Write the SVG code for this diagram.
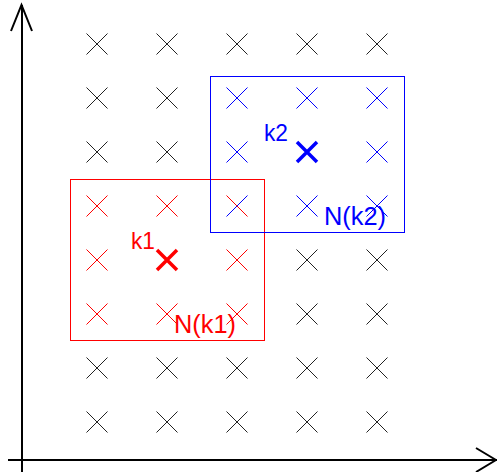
<svg xmlns="http://www.w3.org/2000/svg" width="497" height="472" viewBox="0 0 497 472">
<defs>
<style>
.ax{stroke:#000;stroke-width:2;fill:none}
.g{stroke:#222;stroke-width:1;fill:none}
.r{stroke:#ff0000;stroke-width:1;fill:none}
.b{stroke:#0000ff;stroke-width:1;fill:none}
.rb{stroke:#ff0000;stroke-width:3.5;fill:none}
.bb{stroke:#0000ff;stroke-width:3.5;fill:none}
.t{font-family:"Liberation Sans",Arial,sans-serif}
.tr{fill:#ff0000}
.tb{fill:#0000ff}
</style>
<path id="x" d="M-10.5,-10.5L10.5,10.5M-10.5,10.5L10.5,-10.5"/>
<path id="xd" d="M-10.5,-10.5L10.5,10.5"/>
<path id="xu" d="M-10.5,10.5L10.5,-10.5"/>
<path id="X" d="M-10,-10L10,10M-10,10L10,-10"/>
</defs>
<rect width="497" height="472" fill="#fff"/>
<g id="axes">
<path class="ax" d="M22,472V5M8,460H497"/>
<path class="ax" d="M11,31L21.5,5L32,31"/>
<path class="ax" d="M476,448L496,460L476,472"/>
</g>
<g id="grid" class="g">
<use href="#x" x="97" y="44"/><use href="#x" x="167" y="44"/><use href="#x" x="237" y="44"/><use href="#x" x="307" y="44"/><use href="#x" x="377" y="44"/>
<use href="#x" x="97" y="98"/><use href="#x" x="167" y="98"/>
<use href="#x" x="97" y="152"/><use href="#x" x="167" y="152"/>
<use href="#x" x="307" y="260"/><use href="#x" x="377" y="260"/>
<use href="#x" x="307" y="314"/><use href="#x" x="377" y="314"/>
<use href="#x" x="97" y="368"/><use href="#x" x="167" y="368"/><use href="#x" x="237" y="368"/><use href="#x" x="307" y="368"/><use href="#x" x="377" y="368"/>
<use href="#x" x="97" y="422"/><use href="#x" x="167" y="422"/><use href="#x" x="237" y="422"/><use href="#x" x="307" y="422"/><use href="#x" x="377" y="422"/>
</g>
<g id="N-k1">
<rect class="r" x="70.5" y="179.5" width="194" height="161"/>
<g class="r">
<use href="#x" x="97" y="206"/><use href="#x" x="167" y="206"/>
<use href="#x" x="97" y="260"/><use href="#x" x="237" y="260"/>
<use href="#x" x="97" y="314"/><use href="#x" x="167" y="314"/><use href="#x" x="237" y="314"/>
<use href="#xd" x="237" y="206"/>
</g>
<use href="#X" x="167" y="260" class="rb"/>
<text class="t tr" x="131" y="249" font-size="24" textLength="24" lengthAdjust="spacingAndGlyphs">k1</text>
<text class="t tr" x="174" y="333" font-size="26" textLength="62" lengthAdjust="spacingAndGlyphs">N(k1)</text>
</g>
<g id="N-k2">
<rect class="b" x="210.5" y="76.5" width="194" height="156"/>
<g class="b">
<use href="#x" x="237" y="98"/><use href="#x" x="307" y="98"/><use href="#x" x="377" y="98"/>
<use href="#x" x="237" y="152"/><use href="#x" x="377" y="152"/>
<use href="#x" x="307" y="206"/><use href="#x" x="377" y="206"/>
<use href="#xu" x="237" y="206"/>
</g>
<use href="#X" x="307" y="152" class="bb"/>
<text class="t tb" x="264" y="141" font-size="24" textLength="24" lengthAdjust="spacingAndGlyphs">k2</text>
<text class="t tb" x="324" y="225" font-size="26" textLength="62" lengthAdjust="spacingAndGlyphs">N(k2)</text>
</g>
</svg>
